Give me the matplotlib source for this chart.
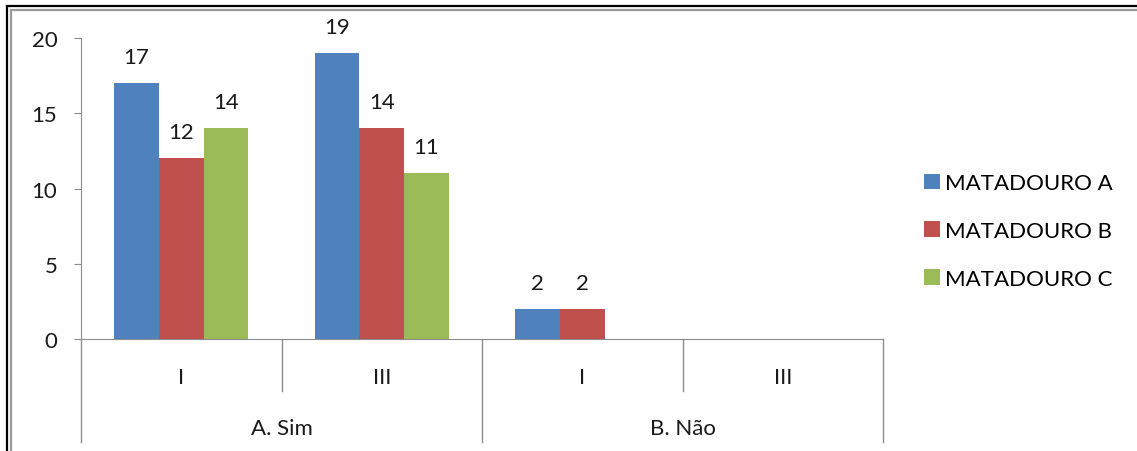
import numpy as np
import matplotlib.pyplot as plt
from matplotlib.lines import Line2D
from matplotlib.transforms import blended_transform_factory

# dados: numero de matadouros por grupo
grupos = ['A. Sim', 'B. Não']
classes = ['I', 'III', 'I', 'III']
series = ['MATADOURO A', 'MATADOURO B', 'MATADOURO C']
mat_a = [17, 19, 2, 0]
mat_b = [12, 14, 2, 0]
mat_c = [14, 11, 0, 0]
cores = ['#4F81BD', '#C0504D', '#9BBB59']

plt.rcParams['font.family'] = ['Lato', 'DejaVu Sans']
fs = 16
W, H = 1137, 452
fig = plt.figure(figsize=(W / 100, H / 100), dpi=100)
ax = fig.add_axes([81 / W, (H - 340) / H, (883 - 81) / W, (340 - 39) / H])

largura = 0.223
inicio = (1 - 3 * largura) / 2
x = np.arange(len(classes))
for j, (valores, cor) in enumerate(zip([mat_a, mat_b, mat_c], cores)):
    pos = x + inicio + largura * (j + 0.5)
    ax.bar(pos, valores, largura, color=cor, label=series[j])
    for p, v in zip(pos, valores):
        if v > 0:
            ax.annotate(str(v), (p, v), xytext=(0, 26), textcoords='offset pixels',
                        ha='center', va='center', fontsize=fs, color='#1a1a1a')

ax.set_xlim(0, len(classes))
ax.set_ylim(0, 20)
ax.set_yticks([0, 5, 10, 15, 20])
ax.set_xticks([])
cinza = '#8c8c8c'
for s in ['top', 'right']:
    ax.spines[s].set_visible(False)
for s in ['left', 'bottom']:
    ax.spines[s].set_color(cinza)
ax.tick_params(axis='y', direction='out', length=5, color=cinza, pad=12,
               labelsize=fs, labelcolor='#1a1a1a')

# eixo de categorias em dois niveis
tr = blended_transform_factory(ax.transData, ax.transAxes)
h_ax = 301.0
for i, c in enumerate(classes):
    ax.text(i + 0.5, -38 / h_ax, c, transform=tr, ha='center', va='center',
            fontsize=fs, color='#1a1a1a')
for i in [1, 3]:
    ax.add_line(Line2D([i, i], [0, -52 / h_ax], transform=tr, color=cinza,
                       lw=1, clip_on=False))
for i in [0, 2, 4]:
    ax.add_line(Line2D([i, i], [0, -103 / h_ax], transform=tr, color=cinza,
                       lw=1, clip_on=False))
for k, g in enumerate(grupos):
    ax.text(2 * k + 1, -89 / h_ax, g, transform=tr, ha='center', va='center',
            fontsize=fs, color='#1a1a1a')

ax.legend(loc='center left', bbox_to_anchor=(924 / W, (H - 232) / H),
          bbox_transform=fig.transFigure, frameon=False, fontsize=fs,
          handlelength=0.7, handleheight=0.7, handletextpad=0.25,
          labelspacing=1.25, borderaxespad=0, borderpad=0)

# moldura dupla
for px, cor, lw in [(7, 'black', 1.6), (10.5, '#999999', 1.6)]:
    fig.add_artist(Line2D([px / W, px / W], [0, 1 - px / H], transform=fig.transFigure,
                          color=cor, lw=lw))
    fig.add_artist(Line2D([px / W, 1.01], [1 - px / H, 1 - px / H], transform=fig.transFigure,
                          color=cor, lw=lw))

fig.savefig('out.png', dpi=100)
